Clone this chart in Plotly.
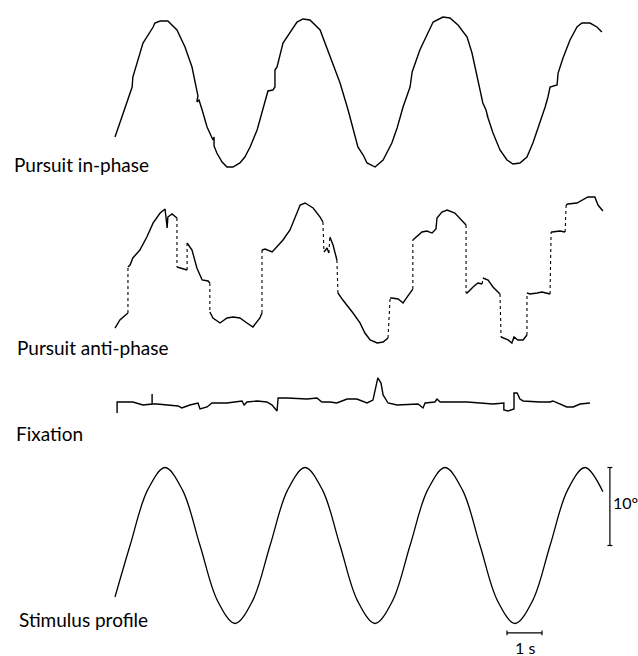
import plotly.graph_objects as go

# ---------------- data (time in s, eye / target position in degrees) ----------------
# Pursuit in-phase
inphase_t = [0.00, 0.14, 0.49, 0.51, 0.80, 1.09, 1.14, 1.29, 1.51, 1.77, 2.00, 2.20, 2.34, 2.37, 2.34, 2.40,
             2.49, 2.63, 2.80, 2.83, 2.83, 2.91, 3.06, 3.20, 3.37, 3.57, 3.71, 3.86, 4.06, 4.23, 4.34, 4.37,
             4.51, 4.57, 4.57, 4.63, 4.80, 5.00, 5.20, 5.37, 5.57, 5.86, 6.14, 6.43, 6.66, 6.86, 6.94, 7.09,
             7.20, 7.43, 7.66, 7.91, 8.06, 8.23, 8.43, 8.49, 8.71, 8.94, 9.09, 9.37, 9.57, 9.80, 10.06, 10.20,
             10.34, 10.51, 10.60, 10.66, 10.63, 10.80, 11.00, 11.20, 11.37, 11.57, 11.77, 11.94, 12.14, 12.29,
             12.37, 12.43, 12.63, 12.66, 12.80, 13.00, 13.20, 13.34, 13.57, 13.77, 13.91]
inphase_deg = [-5.64, -3.85, 0.77, 2.05, 6.41, 8.46, 8.97, 9.23, 9.23, 8.08, 5.90, 3.33, 0.38, -0.38, -1.15, -0.90,
               -2.18, -4.36, -6.03, -5.64, -6.79, -7.69, -8.85, -9.49, -9.49, -8.97, -8.21, -6.92, -4.74, -1.79, 0.00, 0.26,
               0.38, 0.77, 2.95, 3.33, 6.41, 7.82, 9.10, 9.49, 9.36, 8.08, 4.62, 1.28, -2.18, -5.64, -6.92, -7.95,
               -8.97, -9.49, -8.59, -6.41, -4.49, -1.79, 0.77, 2.69, 5.51, 7.69, 9.10, 9.74, 9.62, 8.72, 7.18, 5.13,
               2.05, -1.28, -2.18, -3.21, -2.82, -5.13, -7.31, -8.59, -9.10, -8.97, -8.21, -6.41, -3.85, -1.79,
               -0.51, 0.77, 1.03, 2.56, 4.49, 6.79, 8.46, 8.97, 8.97, 8.46, 7.82]

# Pursuit anti-phase: smooth pieces; fast (saccadic) jumps between pieces are drawn dotted
antiphase_pieces_t = [
    [0.00, 0.14, 0.37],
    [0.37, 0.43, 0.51, 0.71, 0.91, 1.09, 1.29, 1.43, 1.49, 1.51, 1.63, 1.77],
    [1.77, 1.86, 2.06],
    [2.06, 2.20, 2.34, 2.43, 2.49, 2.66, 2.71],
    [2.71, 2.80, 3.00, 3.20, 3.37, 3.57, 3.77, 3.94, 4.14, 4.20],
    [4.20, 4.29, 4.49, 4.63, 4.80, 5.00, 5.20, 5.29, 5.43, 5.66, 5.86, 5.94],
    [5.97, 6.06, 6.11],
    [6.14, 6.23, 6.34],
    [6.37, 6.51, 6.80, 7.00, 7.14, 7.29, 7.49, 7.66, 7.80],
    [7.86, 7.91, 8.09, 8.23, 8.37, 8.51],
    [8.51, 8.57, 8.77, 8.91, 9.06, 9.17, 9.20, 9.34, 9.49, 9.71, 9.91, 10.03],
    [10.03, 10.06, 10.23, 10.37, 10.49],
    [10.51, 10.66, 10.80, 11.00],
    [11.03, 11.09, 11.23, 11.34, 11.40, 11.51, 11.66, 11.77],
    [11.77, 11.86, 12.06, 12.20, 12.43],
    [12.46, 12.49, 12.71, 12.86],
    [12.89, 12.94, 13.20, 13.34, 13.51, 13.71, 13.80, 13.94],
]
antiphase_pieces_deg = [
    [-7.44, -6.41, -5.51],
    [0.38, 0.64, 1.54, 2.56, 4.23, 6.03, 7.31, 7.82, 5.38, 6.79, 7.18, 6.67],
    [0.38, 0.26, 0.00],
    [3.46, 2.56, 0.26, -0.64, -1.28, -1.41, -1.67],
    [-5.38, -6.15, -6.79, -6.15, -6.03, -6.15, -6.79, -7.31, -6.15, -5.51],
    [2.56, 2.69, 2.31, 2.95, 3.85, 5.13, 7.31, 8.33, 8.59, 7.95, 6.79, 6.15],
    [2.31, 2.82, 2.18],
    [4.23, 3.21, 1.28],
    [-2.95, -3.85, -5.51, -6.79, -8.08, -8.97, -9.36, -9.23, -8.72],
    [-3.59, -3.59, -3.72, -4.23, -3.33, -2.44],
    [3.85, 4.10, 4.87, 5.00, 4.74, 5.26, 6.67, 7.44, 7.69, 7.31, 6.41, 5.77],
    [-2.95, -2.95, -2.18, -1.67, -1.79],
    [-1.03, -1.28, -2.18, -3.08],
    [-8.59, -8.72, -8.97, -9.36, -8.59, -8.97, -8.97, -8.33],
    [-2.95, -3.08, -2.95, -2.82, -3.08],
    [4.87, 4.87, 5.00, 4.87],
    [8.33, 8.46, 8.59, 8.97, 9.36, 9.36, 8.33, 7.56],
]

# Fixation
fixation_t = [0.06, 0.06, 0.51, 0.80, 1.06, 1.06, 1.06, 1.20, 1.49, 1.80, 1.91, 2.14, 2.37, 2.43, 2.63, 2.77,
              3.20, 3.63, 3.69, 3.77, 4.06, 4.34, 4.49, 4.63, 4.66, 4.91, 5.49, 5.77, 5.91, 6.14, 6.34, 6.63,
              6.91, 7.09, 7.20, 7.37, 7.49, 7.51, 7.60, 7.66, 7.80, 8.06, 8.66, 8.80, 8.86, 9.14, 9.20, 9.29,
              10.06, 10.43, 10.80, 11.11, 11.11, 11.23, 11.40, 11.40, 11.49, 11.57, 11.66, 12.14, 12.43, 12.51,
              12.71, 12.91, 13.09, 13.29, 13.57]
fixation_deg = [-1.28, 0.13, 0.13, -0.26, -0.13, 1.15, -0.13, -0.13, -0.26, -0.38, -0.64, -0.26, 0.00, -0.77, -0.51, 0.00,
                0.00, 0.26, -0.26, 0.13, 0.26, 0.13, -0.26, -1.03, 0.64, 0.64, 0.51, 0.64, 0.13, 0.13, 0.00, 0.51,
                0.51, 0.13, 0.00, 0.38, 2.69, 3.21, 2.56, 1.03, 0.00, -0.26, -0.13, -0.64, 0.00, 0.13, 0.51, 0.13,
                0.13, 0.00, -0.13, 0.00, -0.90, -1.03, -0.77, 1.28, 1.28, 0.51, 0.26, 0.13, 0.13, 0.26,
                -0.13, -0.51, -0.51, -0.13, 0.00]

# Stimulus profile (target position)
stimulus_t = [0.00, 0.43, 0.93, 1.43, 1.93, 2.43, 2.93, 3.43, 3.93, 4.43, 4.93, 5.43, 5.93, 6.43, 6.93,
              7.43, 7.93, 8.43, 8.93, 9.43, 9.93, 10.43, 10.93, 11.43, 11.93, 12.43, 12.93, 13.43, 13.94]
stimulus_deg = [-6.6, 0.0, 7.1, 10.0, 7.1, 0.0, -7.1, -10.0, -7.1, 0.0, 7.1, 10.0, 7.1, 0.0, -7.1,
                -10.0, -7.1, 0.0, 7.1, 10.0, 7.1, 0.0, -7.1, -10.0, -7.1, 0.0, 7.1, 10.0, 6.9]

panel_labels = ["Pursuit in-phase", "Pursuit anti-phase", "Fixation", "Stimulus profile"]
scale_deg = 10   # vertical calibration bar (degrees)
scale_s = 1      # horizontal calibration bar (seconds)

# ---------------- layout geometry ----------------
W, H = 638, 656
PX_PER_S = 35.0
PX_PER_DEG = 7.8
T0_PX = 115.0
zero_rows = [93, 270, 403, 545.5]      # pixel row of each trace's zero line
label_pos = [(12, 165), (15, 347), (14, 433), (17, 619)]
FONT = "Lato"
FSIZE = 19
SSIZE = 16

def yrange(row):
    return [(row - H) / PX_PER_DEG, row / PX_PER_DEG]

fig = go.Figure()
LINE = dict(color="black", width=1.4)

fig.add_trace(go.Scatter(x=inphase_t, y=inphase_deg, mode="lines", line=LINE, yaxis="y"))

# anti-phase: solid pieces + dotted fast phases
sx, sy, dx, dy = [], [], [], []
for i, (pt, pd) in enumerate(zip(antiphase_pieces_t, antiphase_pieces_deg)):
    sx += pt + [None]
    sy += pd + [None]
    if i + 1 < len(antiphase_pieces_t):
        dx += [pt[-1], antiphase_pieces_t[i + 1][0], None]
        dy += [pd[-1], antiphase_pieces_deg[i + 1][0], None]
fig.add_trace(go.Scatter(x=sx, y=sy, mode="lines", line=LINE, yaxis="y2", connectgaps=False))
fig.add_trace(go.Scatter(x=dx, y=dy, mode="lines", line=dict(color="black", width=1.1, dash="dot"),
                         yaxis="y2", connectgaps=False))

fig.add_trace(go.Scatter(x=fixation_t, y=fixation_deg, mode="lines", line=LINE, yaxis="y3"))
fig.add_trace(go.Scatter(x=stimulus_t, y=stimulus_deg, mode="lines", line=dict(color="black", width=1.3),
                         line_shape="spline", yaxis="y4"))

# calibration bars, drawn in the stimulus axis
bx = 14.14
cap = 0.07
fig.add_trace(go.Scatter(x=[bx, bx, None, bx - cap, bx + cap, None, bx - cap, bx + cap],
                         y=[0, scale_deg, None, scale_deg, scale_deg, None, 0, 0],
                         mode="lines", line=dict(color="black", width=1.2), yaxis="y4"))
hx0, hy = 11.2, -11.2
tick = 0.3
fig.add_trace(go.Scatter(x=[hx0, hx0 + scale_s, None, hx0, hx0, None, hx0 + scale_s, hx0 + scale_s],
                         y=[hy, hy, None, hy - tick, hy + tick, None, hy - tick, hy + tick],
                         mode="lines", line=dict(color="black", width=1.2), yaxis="y4"))

ax_common = dict(visible=False, showgrid=False, zeroline=False, fixedrange=True)
layout = dict(
    width=W, height=H, margin=dict(l=0, r=0, t=0, b=0),
    paper_bgcolor="white", plot_bgcolor="white", showlegend=False,
    xaxis=dict(range=[-T0_PX / PX_PER_S, (W - T0_PX) / PX_PER_S], **ax_common),
    yaxis=dict(range=yrange(zero_rows[0]), domain=[0, 1], **ax_common),
    yaxis2=dict(range=yrange(zero_rows[1]), overlaying="y", **ax_common),
    yaxis3=dict(range=yrange(zero_rows[2]), overlaying="y", **ax_common),
    yaxis4=dict(range=yrange(zero_rows[3]), overlaying="y", **ax_common),
)
fig.update_layout(**layout)

ann = []
for text, (px, py) in zip(panel_labels, label_pos):
    ann.append(dict(text=text, x=px / W, y=1 - py / H, xref="paper", yref="paper",
                    xanchor="left", yanchor="middle", showarrow=False,
                    font=dict(family=FONT, size=FSIZE, color="black")))
ann.append(dict(text=f"{scale_deg}°", x=bx + 0.03, y=scale_deg / 2 + 0.5, xref="x", yref="y4",
                xanchor="left", yanchor="middle", showarrow=False,
                font=dict(family=FONT, size=SSIZE, color="black")))
ann.append(dict(text=f"{scale_s} s", x=hx0 + scale_s / 2, y=hy - 1.9, xref="x", yref="y4",
                xanchor="center", yanchor="middle", showarrow=False,
                font=dict(family=FONT, size=SSIZE, color="black")))
fig.update_layout(annotations=ann)

fig.write_html("out.html", config={"displayModeBar": False},
               post_script="document.body.style.margin='0px';document.body.style.padding='0px';")
